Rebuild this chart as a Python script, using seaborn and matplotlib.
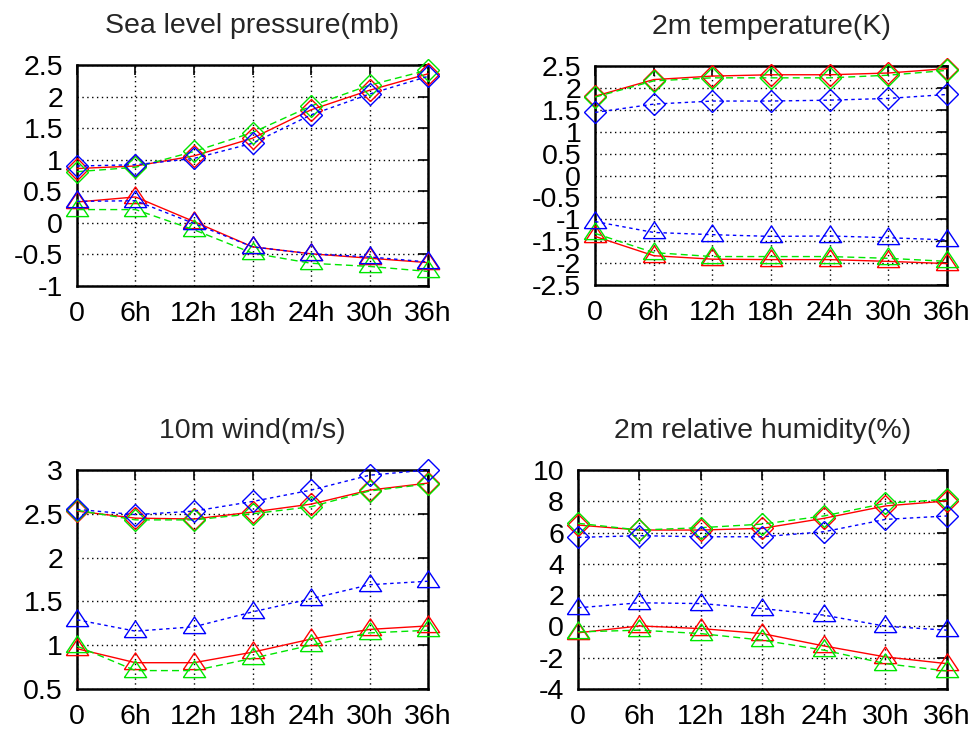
import numpy as np
import pandas as pd
import matplotlib
matplotlib.use("Agg")
import matplotlib.pyplot as plt
import seaborn as sns

# forecast lead times and their labels
hours = [0, 6, 12, 18, 24, 30, 36]
hour_labels = ["0", "6h", "12h", "18h", "24h", "30h", "36h"]

# Sea level pressure (mb)
slp_red_d = [0.86, 0.90, 1.06, 1.34, 1.79, 2.10, 2.36]
slp_green_d = [0.81, 0.88, 1.13, 1.43, 1.85, 2.18, 2.42]
slp_blue_d = [0.90, 0.92, 1.02, 1.26, 1.71, 2.04, 2.32]
slp_red_t = [0.33, 0.41, 0.02, -0.38, -0.49, -0.56, -0.63]
slp_green_t = [0.21, 0.21, -0.11, -0.48, -0.64, -0.69, -0.77]
slp_blue_t = [0.34, 0.35, -0.01, -0.38, -0.49, -0.54, -0.62]

# 2m temperature (K)
t2_red_d = [1.81, 2.19, 2.27, 2.30, 2.30, 2.34, 2.44]
t2_green_d = [1.79, 2.16, 2.23, 2.23, 2.23, 2.29, 2.40]
t2_blue_d = [1.44, 1.63, 1.70, 1.70, 1.72, 1.76, 1.85]
t2_red_t = [-1.39, -1.83, -1.91, -1.92, -1.92, -1.96, -2.01]
t2_green_t = [-1.32, -1.76, -1.85, -1.85, -1.85, -1.89, -1.96]
t2_blue_t = [-1.05, -1.30, -1.35, -1.39, -1.38, -1.42, -1.47]

# 10m wind (m/s)
ws_red_d = [2.53, 2.45, 2.44, 2.52, 2.61, 2.77, 2.85]
ws_green_d = [2.54, 2.43, 2.43, 2.50, 2.58, 2.76, 2.84]
ws_blue_d = [2.55, 2.49, 2.53, 2.64, 2.77, 2.94, 3.00]
ws_red_t = [0.96, 0.80, 0.80, 0.92, 1.07, 1.18, 1.22]
ws_green_t = [0.99, 0.71, 0.71, 0.85, 1.00, 1.14, 1.17]
ws_blue_t = [1.29, 1.16, 1.21, 1.38, 1.53, 1.69, 1.73]

# 2m relative humidity (%)
rh_red_d = [6.48, 6.16, 6.16, 6.27, 6.91, 7.70, 8.02]
rh_green_d = [6.59, 6.16, 6.31, 6.54, 7.06, 7.87, 8.12]
rh_blue_d = [5.69, 5.80, 5.73, 5.73, 6.05, 6.84, 7.06]
rh_red_t = [-0.41, 0.03, -0.14, -0.46, -1.25, -1.95, -2.38]
rh_green_t = [-0.35, -0.24, -0.46, -0.88, -1.52, -2.38, -2.85]
rh_blue_t = [1.19, 1.51, 1.46, 1.14, 0.72, 0.01, -0.24]

titles = ["Sea level pressure(mb)", "2m temperature(K)",
          "10m wind(m/s)", "2m relative humidity(%)"]
yticks_list = [
    [-1, -0.5, 0, 0.5, 1, 1.5, 2, 2.5],
    [-2.5, -2, -1.5, -1, -0.5, 0, 0.5, 1, 1.5, 2, 2.5],
    [0.5, 1, 1.5, 2, 2.5, 3],
    [-4, -2, 0, 2, 4, 6, 8, 10],
]

panels = [
    (slp_red_d, slp_green_d, slp_blue_d, slp_red_t, slp_green_t, slp_blue_t),
    (t2_red_d, t2_green_d, t2_blue_d, t2_red_t, t2_green_t, t2_blue_t),
    (ws_red_d, ws_green_d, ws_blue_d, ws_red_t, ws_green_t, ws_blue_t),
    (rh_red_d, rh_green_d, rh_blue_d, rh_red_t, rh_green_t, rh_blue_t),
]

# axes placement [left, bottom, width, height] in figure fractions
axes_rects = [
    [0.0787, 0.6109, 0.359, 0.3007],
    [0.6084, 0.6122, 0.360, 0.2980],
    [0.0787, 0.0626, 0.359, 0.2980],
    [0.5910, 0.0626, 0.3773, 0.2980],
]

sns.set_style("white")
plt.rcParams["font.family"] = ["Liberation Sans", "DejaVu Sans"]
plt.rcParams["axes.unicode_minus"] = False

palette = {"a": "#ff0000", "b": "#00e600", "c": "#0000ff"}
dashes = {"a": "", "b": (5, 3), "c": (2.5, 2.5)}
tri = [(-1, -0.55), (1, -0.55), (0, 0.95), (-1, -0.55)]

fig = plt.figure(figsize=(9.78, 7.35), dpi=100)

for i, series in enumerate(panels):
    ax = fig.add_axes(axes_rects[i])
    names = ["a", "b", "c"]
    diam = pd.DataFrame({
        "hour": hours * 3,
        "value": series[0] + series[1] + series[2],
        "run": [n for n in names for _ in hours],
    })
    trig = pd.DataFrame({
        "hour": hours * 3,
        "value": series[3] + series[4] + series[5],
        "run": [n for n in names for _ in hours],
    })
    sns.lineplot(data=diam, x="hour", y="value", hue="run", style="run",
                 palette=palette, dashes=dashes,
                 markers={"a": "D", "b": "D", "c": "D"},
                 markersize=11, linewidth=1, legend=False, ax=ax)
    sns.lineplot(data=trig, x="hour", y="value", hue="run", style="run",
                 palette=palette, dashes=dashes,
                 markers={"a": tri, "b": tri, "c": tri},
                 markersize=16, linewidth=1, legend=False, ax=ax)
    for line in ax.lines:
        line.set_markerfacecolor("none")
        line.set_markeredgecolor(line.get_color())
        line.set_markeredgewidth(1)
        line.set_clip_on(False)
        line.set_zorder(3)

    yt = yticks_list[i]
    ax.set_xlim(hours[0], hours[-1])
    ax.set_ylim(yt[0], yt[-1])
    ax.set_xticks(hours)
    ax.set_xticklabels(hour_labels)
    ax.set_yticks(yt)
    ax.set_yticklabels(["%g" % v for v in yt])
    ax.set_xlabel("")
    ax.set_ylabel("")
    ax.grid(True, color="black", linestyle=(0, (1, 2.5)), linewidth=1)
    ax.set_axisbelow(True)
    ax.tick_params(direction="in", length=7, width=1.2, labelsize=20.5,
                   top=True, right=True, pad=10, colors="black")
    ax.tick_params(axis="x", pad=11)
    for sp in ax.spines.values():
        sp.set_visible(True)
        sp.set_color("black")
        sp.set_linewidth(1.8)
    ax.set_title(titles[i], fontsize=20.5, pad=23)

fig.savefig("out.png", dpi=100)
